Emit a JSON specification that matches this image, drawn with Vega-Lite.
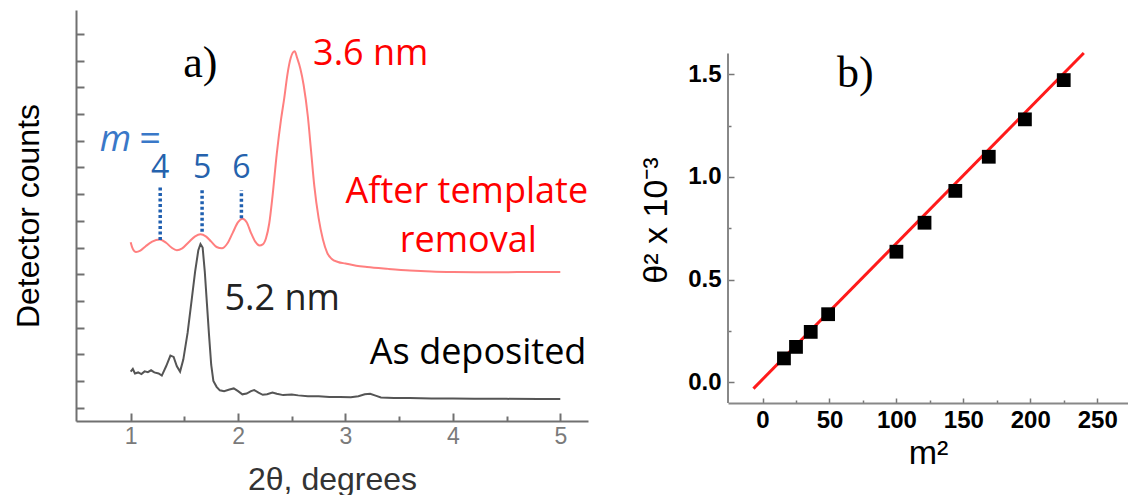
{
  "$schema": "https://vega.github.io/schema/vega-lite/v6.json",
  "padding": {"left": 12, "top": 10, "right": 0, "bottom": 0},
  "background": "white",
  "config": {"font": "Liberation Sans", "view": {"stroke": null}, "axis": {"grid": false}},
  "spacing": 50,
  "datasets": {
    "red": [
      {"t": 1.00, "c": 6.70}, {"t": 1.02, "c": 6.45}, {"t": 1.05, "c": 6.33}, {"t": 1.09, "c": 6.38},
      {"t": 1.14, "c": 6.55}, {"t": 1.20, "c": 6.72}, {"t": 1.27, "c": 6.80}, {"t": 1.33, "c": 6.68},
      {"t": 1.38, "c": 6.50}, {"t": 1.43, "c": 6.40}, {"t": 1.48, "c": 6.47}, {"t": 1.54, "c": 6.70},
      {"t": 1.60, "c": 6.92}, {"t": 1.65, "c": 7.00}, {"t": 1.70, "c": 6.92}, {"t": 1.75, "c": 6.72},
      {"t": 1.80, "c": 6.52}, {"t": 1.85, "c": 6.47}, {"t": 1.90, "c": 6.65}, {"t": 1.95, "c": 7.05},
      {"t": 2.00, "c": 7.45}, {"t": 2.04, "c": 7.58}, {"t": 2.08, "c": 7.45}, {"t": 2.12, "c": 7.05},
      {"t": 2.16, "c": 6.72}, {"t": 2.20, "c": 6.58}, {"t": 2.23, "c": 6.62}, {"t": 2.26, "c": 6.85},
      {"t": 2.29, "c": 7.40}, {"t": 2.32, "c": 8.40}, {"t": 2.36, "c": 10.0}, {"t": 2.40, "c": 11.3},
      {"t": 2.43, "c": 12.1}, {"t": 2.46, "c": 13.0}, {"t": 2.49, "c": 13.6}, {"t": 2.527, "c": 13.85},
      {"t": 2.55, "c": 13.6}, {"t": 2.58, "c": 13.2}, {"t": 2.61, "c": 12.6}, {"t": 2.65, "c": 11.4},
      {"t": 2.68, "c": 10.1}, {"t": 2.71, "c": 8.8}, {"t": 2.75, "c": 7.6}, {"t": 2.79, "c": 6.8},
      {"t": 2.83, "c": 6.3}, {"t": 2.87, "c": 6.08}, {"t": 2.93, "c": 5.96}, {"t": 3.00, "c": 5.90},
      {"t": 3.10, "c": 5.82}, {"t": 3.20, "c": 5.77}, {"t": 3.40, "c": 5.70}, {"t": 3.60, "c": 5.64},
      {"t": 3.80, "c": 5.60}, {"t": 4.00, "c": 5.58}, {"t": 4.30, "c": 5.57}, {"t": 4.60, "c": 5.58},
      {"t": 5.00, "c": 5.58}
    ],
    "black": [
      {"t": 1.00, "c": 1.85}, {"t": 1.02, "c": 1.95}, {"t": 1.04, "c": 1.78}, {"t": 1.07, "c": 1.82},
      {"t": 1.10, "c": 1.76}, {"t": 1.13, "c": 1.86}, {"t": 1.16, "c": 1.83}, {"t": 1.19, "c": 1.90},
      {"t": 1.22, "c": 1.82}, {"t": 1.26, "c": 1.78}, {"t": 1.29, "c": 1.70}, {"t": 1.33, "c": 2.05},
      {"t": 1.37, "c": 2.45}, {"t": 1.40, "c": 2.40}, {"t": 1.43, "c": 2.05}, {"t": 1.46, "c": 1.85},
      {"t": 1.49, "c": 2.30}, {"t": 1.53, "c": 3.30}, {"t": 1.57, "c": 4.60}, {"t": 1.60, "c": 5.60},
      {"t": 1.63, "c": 6.40}, {"t": 1.65, "c": 6.63}, {"t": 1.67, "c": 6.50}, {"t": 1.69, "c": 5.60},
      {"t": 1.71, "c": 4.40}, {"t": 1.73, "c": 3.20}, {"t": 1.75, "c": 2.10}, {"t": 1.77, "c": 1.50},
      {"t": 1.80, "c": 1.28}, {"t": 1.83, "c": 1.15}, {"t": 1.87, "c": 1.12}, {"t": 1.92, "c": 1.18},
      {"t": 1.96, "c": 1.22}, {"t": 2.00, "c": 1.12}, {"t": 2.04, "c": 1.00}, {"t": 2.08, "c": 1.03},
      {"t": 2.12, "c": 1.12}, {"t": 2.15, "c": 1.16}, {"t": 2.19, "c": 1.06}, {"t": 2.23, "c": 0.98},
      {"t": 2.27, "c": 1.00}, {"t": 2.32, "c": 1.07}, {"t": 2.36, "c": 1.02}, {"t": 2.42, "c": 0.97},
      {"t": 2.50, "c": 0.99}, {"t": 2.56, "c": 0.96}, {"t": 2.65, "c": 0.93}, {"t": 2.75, "c": 0.93},
      {"t": 2.85, "c": 0.90}, {"t": 2.95, "c": 0.90}, {"t": 3.05, "c": 0.89}, {"t": 3.12, "c": 0.93},
      {"t": 3.18, "c": 1.00}, {"t": 3.23, "c": 1.02}, {"t": 3.28, "c": 0.95}, {"t": 3.33, "c": 0.88},
      {"t": 3.45, "c": 0.86}, {"t": 3.60, "c": 0.86}, {"t": 3.80, "c": 0.84}, {"t": 4.00, "c": 0.84},
      {"t": 4.20, "c": 0.83}, {"t": 4.50, "c": 0.83}, {"t": 4.80, "c": 0.82}, {"t": 5.00, "c": 0.82}
    ],
    "orders": [
      {"t": 1.275, "lo": 6.78, "hi": 8.84, "label": "4"},
      {"t": 1.665, "lo": 7.09, "hi": 8.73, "label": "5"},
      {"t": 2.031, "lo": 7.60, "hi": 8.65, "label": "6"}
    ],
    "points": [
      {"m2": 16, "th": 0.117}, {"m2": 25, "th": 0.173}, {"m2": 36, "th": 0.246}, {"m2": 49, "th": 0.332},
      {"m2": 100, "th": 0.636}, {"m2": 121, "th": 0.777}, {"m2": 144, "th": 0.932}, {"m2": 169, "th": 1.098},
      {"m2": 196, "th": 1.280}, {"m2": 225, "th": 1.471}
    ],
    "fit": [{"m2": -6.8, "th": -0.03}, {"m2": 240, "th": 1.603}]
  },
  "hconcat": [
    {
      "width": 512,
      "height": 411,
      "resolve": {"axis": {"x": "independent", "y": "independent"}},
      "layer": [
        {
          "data": {"name": "red"},
          "mark": {"type": "line", "color": "#ff7f7f", "strokeWidth": 2, "interpolate": "monotone"},
          "encoding": {
            "x": {"field": "t", "type": "quantitative", "scale": {"domain": [0.491, 5.258], "nice": false, "zero": false},
              "axis": {"orient": "bottom", "values": [1, 2, 3, 4, 5], "tickSize": -8, "tickWidth": 2, "tickColor": "#707070",
                "domainColor": "#707070", "domainWidth": 2, "labelFont": "Liberation Sans", "labelFontSize": 23,
                "labelColor": "#7a7a7a", "labelPadding": 12, "title": "2θ, degrees", "titleFont": "Liberation Sans",
                "titleFontSize": 32, "titleFontWeight": "normal", "titleColor": "#333333", "titlePadding": 16}},
            "y": {"field": "c", "type": "quantitative", "scale": {"domain": [0, 15.4], "nice": false, "zero": false},
              "axis": {"orient": "left", "values": [0.5, 1.5, 2.5, 3.5, 4.5, 5.5, 6.5, 7.5, 8.5, 9.5, 10.5, 11.5, 12.5, 13.5, 14.5],
                "tickSize": -8, "tickWidth": 2, "tickColor": "#707070", "domainColor": "#707070", "domainWidth": 2,
                "labels": false, "title": "Detector counts", "titleFont": "Liberation Sans", "titleFontSize": 32,
                "titleFontWeight": "normal", "titleColor": "#000000", "titlePadding": 30}}
          }
        },
        {
          "data": {"name": "black"},
          "mark": {"type": "line", "color": "#555555", "strokeWidth": 2, "interpolate": "linear"},
          "encoding": {
            "x": {"field": "t", "type": "quantitative", "scale": {"domain": [0.491, 5.258], "nice": false, "zero": false},
              "axis": {"orient": "bottom", "values": [1.5, 2.5, 3.5, 4.5], "tickSize": -5, "tickWidth": 2, "tickColor": "#707070",
                "domain": false, "labels": false, "title": null}},
            "y": {"field": "c", "type": "quantitative", "scale": {"domain": [0, 15.4], "nice": false, "zero": false}, "axis": null}
          }
        },
        {
          "data": {"name": "orders"},
          "mark": {"type": "rule", "color": "#1f5fb0", "strokeWidth": 3.5, "strokeDash": [3, 2.5]},
          "encoding": {
            "x": {"field": "t", "type": "quantitative", "axis": null},
            "y": {"field": "lo", "type": "quantitative", "axis": null},
            "y2": {"field": "hi"}
          }
        },
        {
          "data": {"name": "orders"},
          "mark": {"type": "text", "font": "Open Sans", "fontSize": 32, "align": "center", "baseline": "alphabetic", "color": "#2562ad"},
          "encoding": {
            "x": {"field": "t", "type": "quantitative", "axis": null},
            "y": {"datum": 9.1, "type": "quantitative", "axis": null},
            "text": {"field": "label"}
          }
        },
        {
          "data": {"values": [{"t": 0.712, "c": 10.1, "s": "m"}]},
          "mark": {"type": "text", "font": "Open Sans", "fontSize": 36, "fontStyle": "italic", "align": "left", "baseline": "alphabetic", "color": "#3a78c8"},
          "encoding": {
            "x": {"field": "t", "type": "quantitative", "axis": null},
            "y": {"field": "c", "type": "quantitative", "axis": null},
            "text": {"field": "s"}
          }
        },
        {
          "data": {"values": [{"t": 1.08, "c": 10.1, "s": "="}]},
          "mark": {"type": "text", "font": "Open Sans", "fontSize": 38, "align": "left", "baseline": "alphabetic", "color": "#3a78c8"},
          "encoding": {
            "x": {"field": "t", "type": "quantitative", "axis": null},
            "y": {"field": "c", "type": "quantitative", "axis": null},
            "text": {"field": "s"}
          }
        },
        {
          "data": {"values": [{"t": 1.49, "c": 12.88, "s": "a)"}]},
          "mark": {"type": "text", "font": "Liberation Serif", "fontSize": 44, "align": "left", "baseline": "alphabetic", "color": "#000000"},
          "encoding": {
            "x": {"field": "t", "type": "quantitative", "axis": null},
            "y": {"field": "c", "type": "quantitative", "axis": null},
            "text": {"field": "s"}
          }
        },
        {
          "data": {"values": [{"t": 2.698, "c": 13.33, "s": "3.6 nm"}]},
          "mark": {"type": "text", "font": "Open Sans", "fontSize": 36, "align": "left", "baseline": "alphabetic", "color": "#ff0000"},
          "encoding": {
            "x": {"field": "t", "type": "quantitative", "axis": null},
            "y": {"field": "c", "type": "quantitative", "axis": null},
            "text": {"field": "s"}
          }
        },
        {
          "data": {"values": [{"t": 4.13, "c": 8.16, "s": "After template"}, {"t": 4.143, "c": 6.33, "s": "removal"}]},
          "mark": {"type": "text", "font": "Open Sans", "fontSize": 36, "align": "center", "baseline": "alphabetic", "color": "#ff0000"},
          "encoding": {
            "x": {"field": "t", "type": "quantitative", "axis": null},
            "y": {"field": "c", "type": "quantitative", "axis": null},
            "text": {"field": "s"}
          }
        },
        {
          "data": {"values": [{"t": 1.873, "c": 4.16, "s": "5.2 nm"}]},
          "mark": {"type": "text", "font": "Open Sans", "fontSize": 36, "align": "left", "baseline": "alphabetic", "color": "#222222"},
          "encoding": {
            "x": {"field": "t", "type": "quantitative", "axis": null},
            "y": {"field": "c", "type": "quantitative", "axis": null},
            "text": {"field": "s"}
          }
        },
        {
          "data": {"values": [{"t": 3.227, "c": 2.13, "s": "As deposited"}]},
          "mark": {"type": "text", "font": "Open Sans", "fontSize": 36, "align": "left", "baseline": "alphabetic", "color": "#000000"},
          "encoding": {
            "x": {"field": "t", "type": "quantitative", "axis": null},
            "y": {"field": "c", "type": "quantitative", "axis": null},
            "text": {"field": "s"}
          }
        }
      ]
    },
    {
      "width": 400,
      "height": 393,
      "resolve": {"axis": {"x": "independent", "y": "independent"}},
      "layer": [
        {
          "data": {"values": [{"m2": -25.8, "lo": -0.1, "hi": 1.6}]},
          "mark": {"type": "rule", "color": "#888888", "strokeWidth": 2},
          "encoding": {
            "x": {"field": "m2", "type": "quantitative", "scale": {"domain": [-25.8, 273], "nice": false, "zero": false}, "axis": null},
            "y": {"field": "lo", "type": "quantitative", "scale": {"domain": [-0.1, 1.812], "nice": false, "zero": false}, "axis": null},
            "y2": {"field": "hi"}
          }
        },
        {
          "data": {"name": "fit"},
          "mark": {"type": "line", "color": "#ff1a1a", "strokeWidth": 3},
          "encoding": {
            "x": {"field": "m2", "type": "quantitative",
              "axis": {"orient": "bottom", "values": [25, 75, 125, 175, 225], "tickSize": -3, "tickWidth": 1.5, "tickColor": "#777777",
                "domain": false, "labels": false, "title": null}},
            "y": {"field": "th", "type": "quantitative",
              "axis": {"orient": "left", "values": [0.25, 0.75, 1.25], "tickSize": -3, "tickWidth": 1.5, "tickColor": "#777777",
                "domain": false, "labels": false, "title": null}}
          }
        },
        {
          "data": {"name": "points"},
          "mark": {"type": "square", "filled": true, "color": "#000000", "size": 190, "opacity": 1},
          "encoding": {
            "x": {"field": "m2", "type": "quantitative",
              "axis": {"orient": "bottom", "values": [0, 50, 100, 150, 200, 250], "tickSize": -5, "tickWidth": 1.5, "tickColor": "#777777",
                "domainColor": "#888888", "domainWidth": 2, "labelFont": "Liberation Sans", "labelFontSize": 24, "labelFontWeight": "bold",
                "labelColor": "#000000", "labelPadding": 10, "title": "m²", "titleFont": "Liberation Sans", "titleFontSize": 34,
                "titleFontWeight": "normal", "titleColor": "#000000", "titlePadding": 4}},
            "y": {"field": "th", "type": "quantitative",
              "axis": {"orient": "left", "values": [0, 0.5, 1, 1.5], "format": ".1f", "tickSize": -6, "tickWidth": 1.5, "tickColor": "#777777",
                "domain": false, "labelFont": "Liberation Sans", "labelFontSize": 24, "labelFontWeight": "bold", "labelColor": "#000000",
                "labelPadding": 13, "title": "θ² x 10⁻³", "titleFont": "Liberation Sans", "titleFontSize": 34, "titleFontWeight": "normal",
                "titleColor": "#000000", "titlePadding": 14, "titleY": 210}}
          }
        },
        {
          "data": {"values": [{"m2": 55.6, "th": 1.437, "s": "b)"}]},
          "mark": {"type": "text", "font": "Liberation Serif", "fontSize": 44, "align": "left", "baseline": "alphabetic", "color": "#000000"},
          "encoding": {
            "x": {"field": "m2", "type": "quantitative", "axis": null},
            "y": {"field": "th", "type": "quantitative", "axis": null},
            "text": {"field": "s"}
          }
        }
      ]
    }
  ]
}
